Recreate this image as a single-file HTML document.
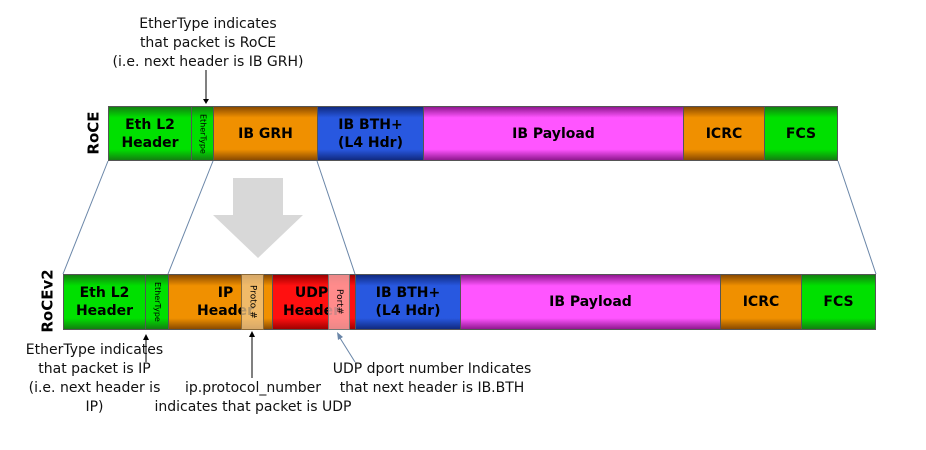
<!DOCTYPE html>
<html><head><meta charset="utf-8"><style>
body{margin:0;width:926px;height:450px;background:#fff;position:relative;overflow:hidden;font-family:"DejaVu Sans","Liberation Sans",sans-serif}
.b{position:absolute;box-sizing:border-box;border:1px solid #555;display:flex;align-items:center;justify-content:center;text-align:center;font-weight:bold;font-size:14px;line-height:18px;color:#000}
.g{background:linear-gradient(#128010,#00e000 20%,#00e000 80%,#128010)}
.o{background:linear-gradient(#8a4a00,#f09000 20%,#f09000 80%,#8a4a00)}
.bl{background:linear-gradient(#102a80,#2858e0 20%,#2858e0 80%,#102a80)}
.p{background:linear-gradient(#901890,#ff55ff 20%,#ff55ff 80%,#901890)}
.r{background:linear-gradient(#a00000,#ff1010 20%,#ff1010 80%,#a00000)}
.v{writing-mode:vertical-rl;font-size:8px;font-weight:normal}
.t{position:absolute;font-size:14px;line-height:19px;text-align:center;color:#111;white-space:nowrap}
.side{position:absolute;font-weight:bold;font-size:15px;transform:rotate(-90deg);transform-origin:center}
</style></head><body>
<svg width="926" height="450" style="position:absolute;left:0;top:0">
<polygon points="233,178 283,178 283,215 303,215 258,258 213,215 233,215" fill="#d8d8d8"/>
<g stroke="#6a86a8" stroke-width="1">
<line x1="108" y1="161" x2="63" y2="274"/><line x1="213" y1="161" x2="168" y2="274"/>
<line x1="317" y1="161" x2="355" y2="274"/><line x1="838" y1="161" x2="876" y2="274"/>
</g>
<g stroke="#000" stroke-width="1">
<line x1="206" y1="70" x2="206" y2="100"/><line x1="146" y1="340" x2="146" y2="362"/>
<line x1="252" y1="337" x2="252" y2="378"/>
</g>
<line x1="355" y1="362" x2="340" y2="338" stroke="#6a86a8"/>
<g fill="#000"><polygon points="203,99 209,99 206,104"/><polygon points="143,340 149,340 146,334"/><polygon points="249,337 255,337 252,331"/></g>
<polygon points="337,332 343,337 338,340" fill="#6a86a8"/>
</svg>
<div class="t" style="left:108px;top:15px;width:200px">EtherType indicates<br>that packet is RoCE<br>(i.e. next header is IB GRH)</div>
<div class="side" style="left:72px;top:124px">RoCE</div>
<div class="b g" style="left:108px;top:106px;width:84px;height:55px">Eth L2<br>Header</div>
<div class="b g v" style="left:191px;top:106px;width:23px;height:55px">EtherType</div>
<div class="b o" style="left:213px;top:106px;width:105px;height:55px">IB GRH</div>
<div class="b bl" style="left:317px;top:106px;width:107px;height:55px">IB BTH+<br>(L4 Hdr)</div>
<div class="b p" style="left:423px;top:106px;width:261px;height:55px">IB Payload</div>
<div class="b o" style="left:683px;top:106px;width:82px;height:55px">ICRC</div>
<div class="b g" style="left:764px;top:106px;width:74px;height:55px">FCS</div>

<div class="side" style="left:16px;top:292px">RoCEv2</div>
<div class="b g" style="left:63px;top:274px;width:83px;height:56px">Eth L2<br>Header</div>
<div class="b g v" style="left:145px;top:274px;width:24px;height:56px">EtherType</div>
<div class="b o" style="left:168px;top:274px;width:105px;height:56px;justify-content:flex-start;padding-left:28px">IP<br>Header</div>
<div class="b r" style="left:272px;top:274px;width:84px;height:56px;justify-content:flex-start;padding-left:10px">UDP<br>Header</div>
<div class="b v" style="left:241px;top:274px;width:23px;height:56px;background:rgba(240,200,140,.75);border-color:#8a6a3a;font-size:9px">Proto #</div>
<div class="b v" style="left:328px;top:274px;width:22px;height:56px;background:rgba(255,170,170,.8);border-color:#777;font-size:9px">Port#</div>
<div class="b bl" style="left:355px;top:274px;width:106px;height:56px">IB BTH+<br>(L4 Hdr)</div>
<div class="b p" style="left:460px;top:274px;width:261px;height:56px">IB Payload</div>
<div class="b o" style="left:720px;top:274px;width:82px;height:56px">ICRC</div>
<div class="b g" style="left:801px;top:274px;width:75px;height:56px">FCS</div>

<div class="t" style="left:22px;top:341px;width:145px">EtherType indicates<br>that packet is IP<br>(i.e. next header is<br>IP)</div>
<div class="t" style="left:148px;top:379px;width:210px">ip.protocol_number<br>indicates that packet is UDP</div>
<div class="t" style="left:332px;top:360px;width:200px">UDP dport number Indicates<br>that next header is IB.BTH</div>
</body></html>
